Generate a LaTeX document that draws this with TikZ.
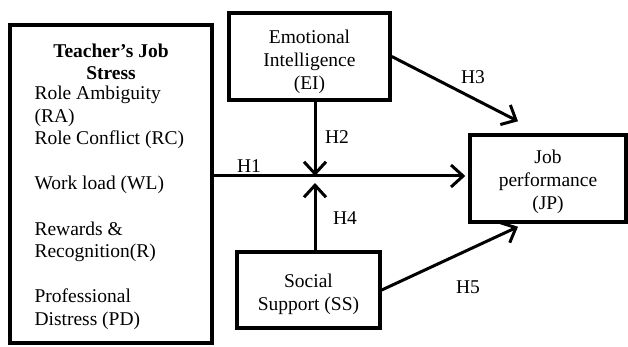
\documentclass[tikz,border=0pt]{standalone}
\usepackage{fontspec}
\setmainfont{Liberation Serif}
\usetikzlibrary{arrows.meta,positioning}

\begin{document}
\begin{tikzpicture}[ x=1pt, y=-1pt, >={Straight Barb[length=12pt,width=22pt]},
        every node/.style={ font=\fontsize{19.5}{23}\selectfont },
        block/.style={ draw, line width=3.5pt, inner sep=0pt },
        link/.style={ ->, line width=3pt } ]
        \useasboundingbox (0,0) rectangle (628,347);

        % boxes
        \node[block,minimum width=202pt,minimum height=318pt] (stress) at (111,184) {};
        \node[block,minimum width=161pt,minimum height=87pt] (ei) at (309.5,56.5) {};
        \node[block,minimum width=156pt,minimum height=87pt] (jp) at (548,178.5) {};
        \node[block,minimum width=143pt,minimum height=76pt] (ss) at (308.5,290) {};

        \node[align=center] (eitext) at ([yshift=-5pt]ei) {Emotional\\Intelligence\\(EI)};
        \node[align=center] (jptext) at ([yshift=-3pt]jp) {Job\\performance\\(JP)};
        \node[align=center] (sstext) at ([yshift=-4pt]ss) {Social\\Support (SS)};

        % stress factors
        \node[align=center,font=\bfseries\fontsize{19.5}{22.5}\selectfont] (title)
          at (111,62) {Teacher's Job\\Stress};
        \foreach \y/\t in {100/Role Ambiguity,122.5/(RA),145/Role Conflict (RC),
          190/Work load (WL),235/Rewards \&,257.5/Recognition(R),
          302.5/Professional,325/Distress (PD)}
        \node[anchor=base west] (ts\y) at (31,\y) {\t};

        \coordinate (J) at (315,176);

        \draw[link] (stress.east |- J) -- ([xshift=-3pt]jp.west |- J);
        \draw[link] (ei.south -| J) -- (J);
        \draw[link,shorten >=7pt] (ss.north -| J) -- (J);
        \draw[link] (ei.east) -- ([xshift=-30pt,yshift=12pt]jp.north);
        \draw[link] (ss.east) -- ([xshift=-30pt,yshift=-3pt]jp.south);

        % hypotheses
        \foreach \x/\y/\l in {249/166/H1,337/137/H2,473/77/H3,345/218/H4,468/287/H5}
        \node (\l) at (\x,\y) {\l};
\end{tikzpicture}
\end{document}
